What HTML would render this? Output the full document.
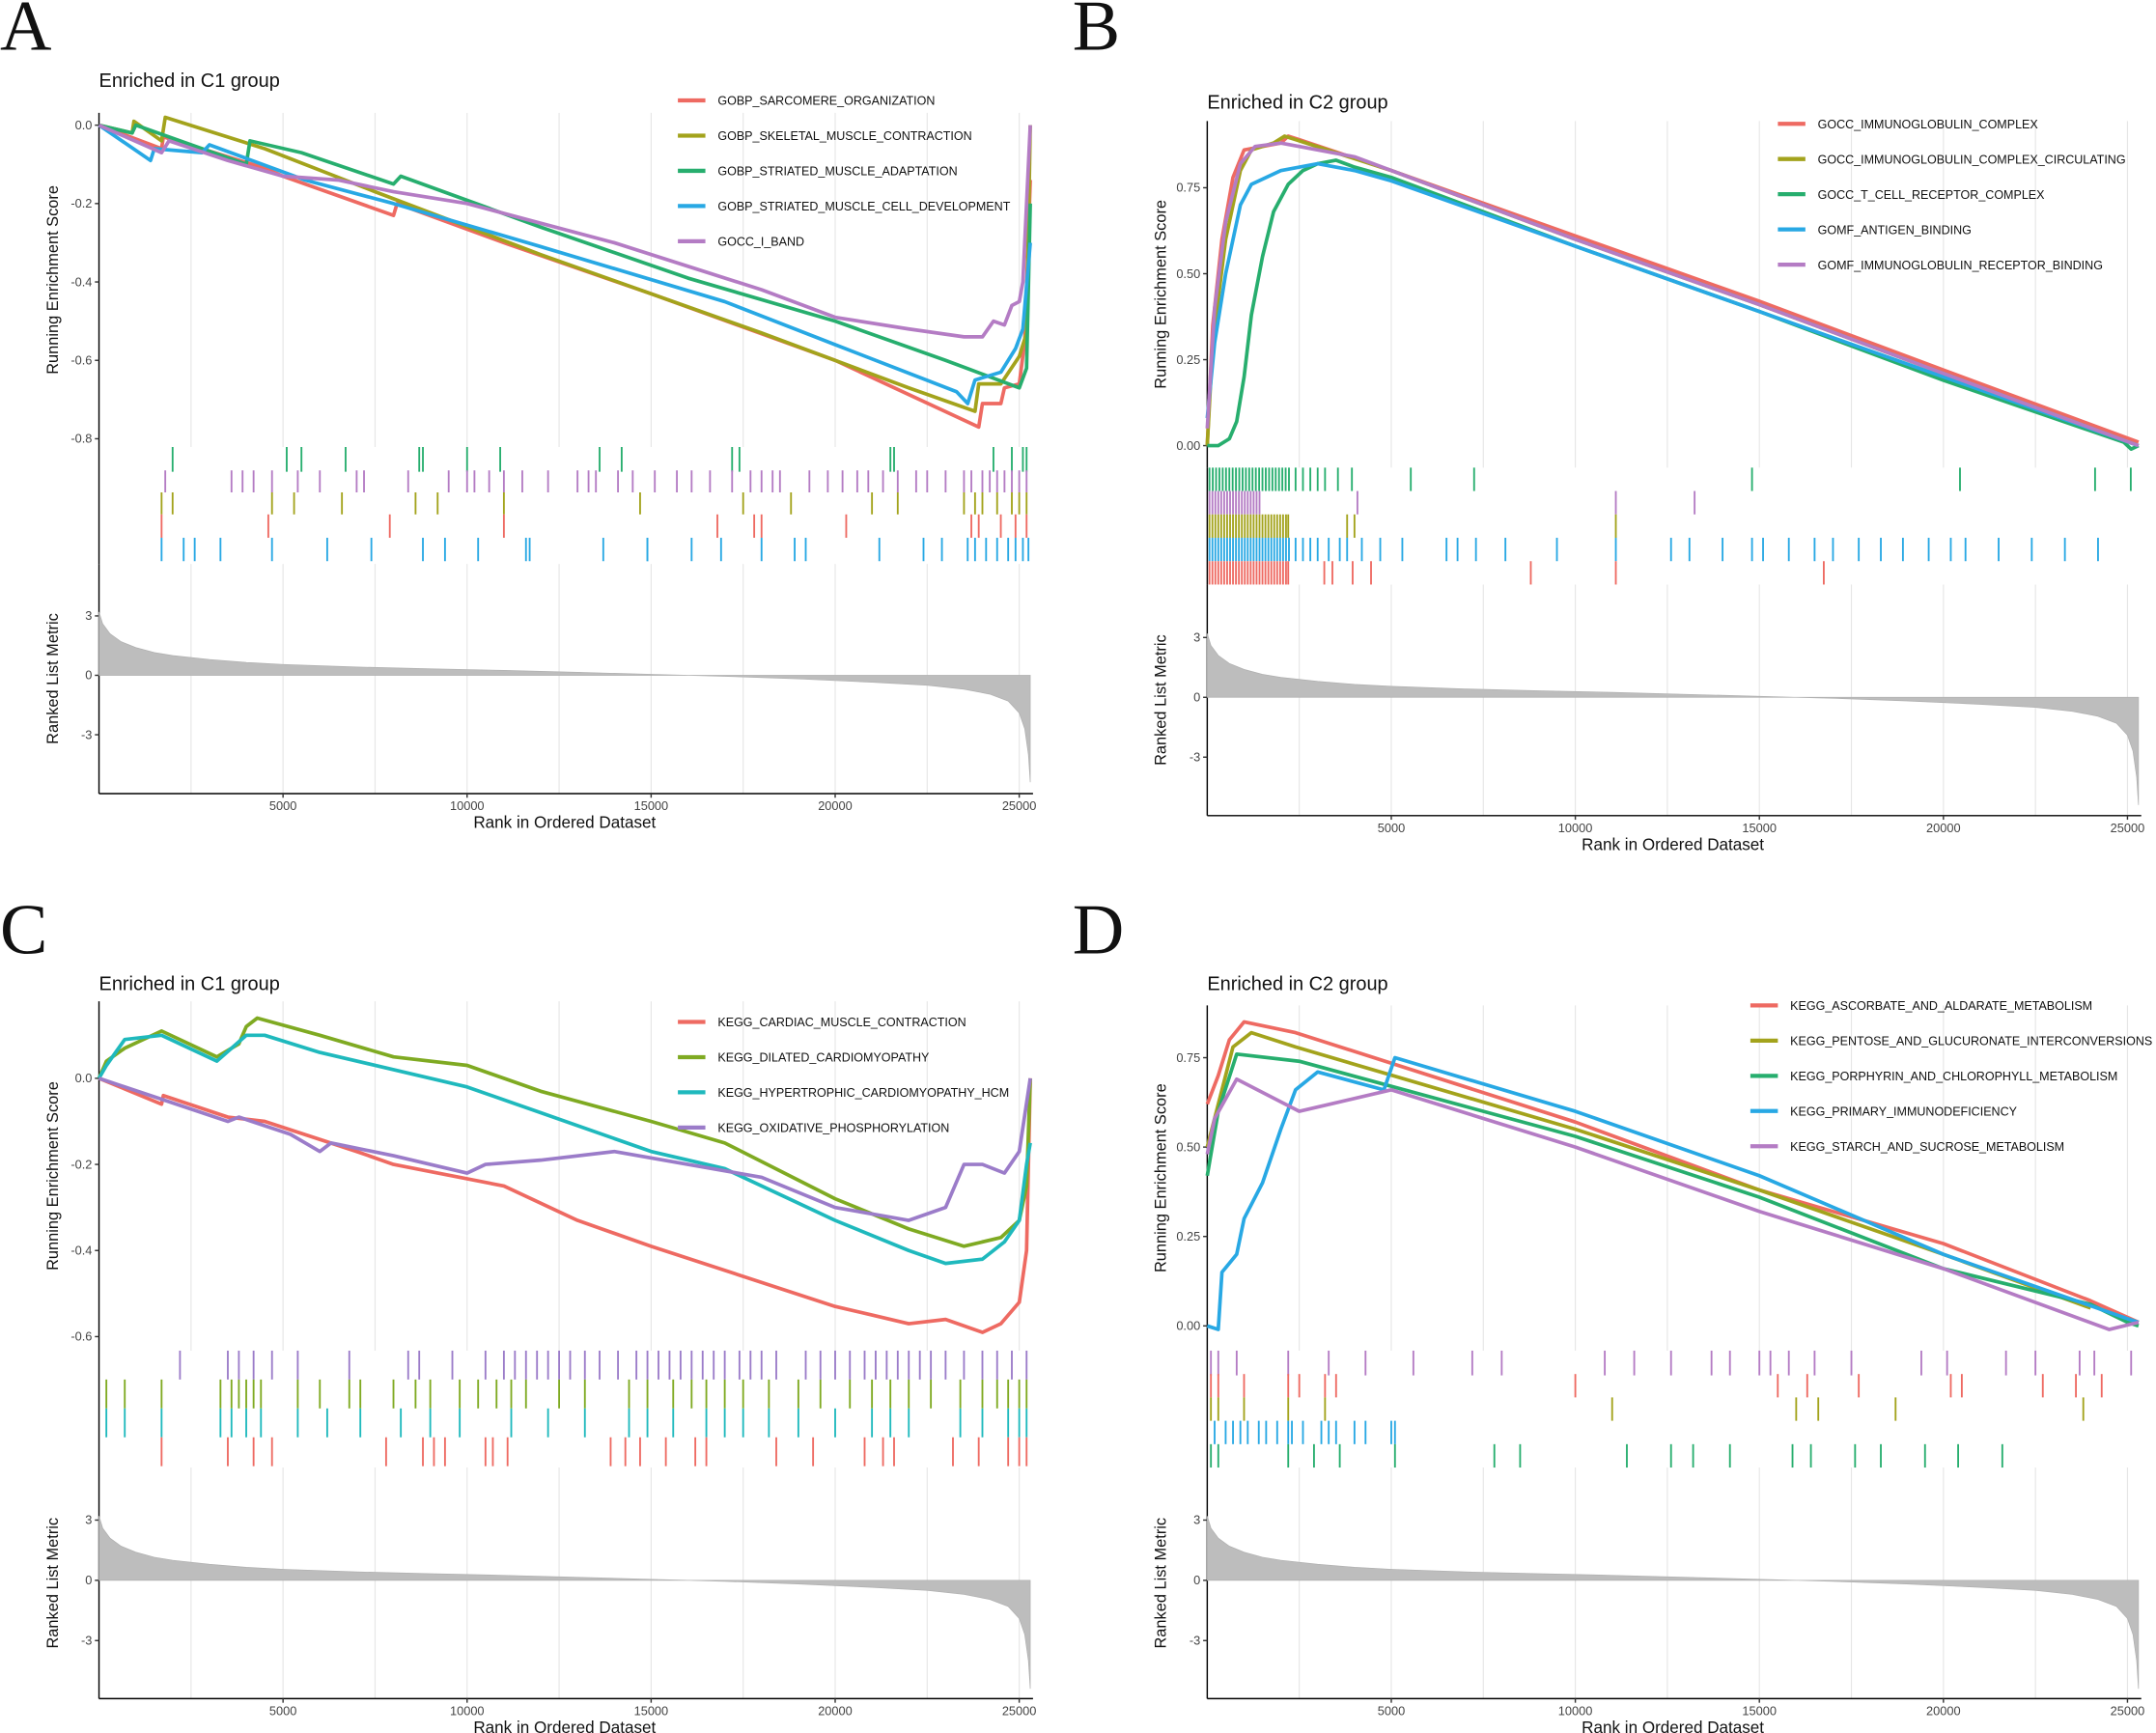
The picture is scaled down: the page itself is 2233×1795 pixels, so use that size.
<!DOCTYPE html>
<html><head><meta charset="utf-8"><style>
html,body{margin:0;padding:0;background:#fff}
svg{display:block}
text{font-family:"Liberation Sans Narrow","Liberation Sans",sans-serif}
text.letter{font-family:"Liberation Serif",serif}
text.ytitle{font-family:"Liberation Sans",sans-serif}
</style></head><body>
<svg id="fig" width="2233" height="1795" viewBox="0 0 1568 1260" preserveAspectRatio="none" xmlns="http://www.w3.org/2000/svg"></svg>
<script>
// ---------- DATA ----------
const rankTicks = [5000,10000,15000,20000,25000];
const gridRanks = [2500,5000,7500,10000,12500,15000,17500,20000,22500,25000];
const metricRanks = [0,100,300,600,1000,1500,2000,3000,4000,5000,7000,9000,11000,13000,15000,17000,19000,21000,22500,23500,24200,24700,25000,25150,25250,25300];
const metricVals  = [3.2,2.6,2.1,1.7,1.4,1.15,1.0,0.8,0.65,0.55,0.42,0.33,0.25,0.15,0.05,-0.05,-0.18,-0.35,-0.5,-0.7,-0.95,-1.3,-1.9,-2.7,-4,-5.4];

// Panel A
const aNames = ["GOBP_SARCOMERE_ORGANIZATION","GOBP_SKELETAL_MUSCLE_CONTRACTION","GOBP_STRIATED_MUSCLE_ADAPTATION","GOBP_STRIATED_MUSCLE_CELL_DEVELOPMENT","GOCC_I_BAND"];
const aColors = ["#EE6A62","#A3A31C","#27AE6E","#28A8E4","#B47CC4"];
const aES0 = [[0,0],[1700,-0.06],[1750,-0.03],[4500,-0.11],[5000,-0.13],[8000,-0.23],[8100,-0.2],[11000,-0.3],[15000,-0.43],[20000,-0.6],[23900,-0.77],[24000,-0.71],[24500,-0.71],[24600,-0.67],[25000,-0.66],[25150,-0.55],[25300,-0.14]];
const aES1 = [[0,0],[900,-0.02],[950,0.01],[1700,-0.04],[1800,0.02],[4500,-0.06],[7500,-0.17],[12000,-0.33],[18000,-0.53],[22000,-0.67],[23800,-0.73],[23900,-0.66],[24500,-0.66],[25000,-0.59],[25200,-0.53],[25300,0]];
const aES2 = [[0,0],[900,-0.02],[1000,0],[4000,-0.1],[4100,-0.04],[5500,-0.07],[8000,-0.15],[8200,-0.13],[12000,-0.26],[16000,-0.39],[20000,-0.5],[23000,-0.6],[25000,-0.67],[25200,-0.62],[25300,-0.2]];
const aES3 = [[0,0],[1400,-0.09],[1500,-0.06],[2800,-0.07],[3000,-0.05],[5600,-0.14],[8000,-0.2],[12000,-0.31],[17000,-0.45],[20000,-0.56],[23300,-0.68],[23600,-0.71],[23800,-0.65],[24500,-0.63],[24900,-0.57],[25100,-0.52],[25300,-0.3]];
const aES4 = [[0,0],[1700,-0.07],[1900,-0.04],[3500,-0.09],[5000,-0.13],[6500,-0.14],[8000,-0.17],[10000,-0.2],[12000,-0.25],[14000,-0.3],[16000,-0.36],[18000,-0.42],[20000,-0.49],[22000,-0.52],[23500,-0.54],[24000,-0.54],[24300,-0.5],[24600,-0.51],[24800,-0.46],[25000,-0.45],[25100,-0.4],[25300,0]];
const aHits0 = [1700,4600,7900,11000,16800,17800,18000,20300,23700,23900,24500,24900,25200];
const aHits1 = [1700,2000,4700,5300,6600,8600,9200,11000,14700,17500,18800,21000,21700,23500,23800,24000,24400,24800,25000,25200];
const aHits2 = [2000,5100,5500,6700,8700,8800,10000,10900,13600,14200,17200,17400,21500,21600,24300,24800,25100,25200];
const aHits3 = [1700,2300,2600,3300,4700,6200,7400,8800,9400,10300,11600,11700,13700,14900,14900,16100,16900,18000,18900,19200,21200,22400,22900,23600,23800,24100,24400,24700,24900,25100,25250];
const aHits4 = [1800,3600,3900,4200,4700,5400,6000,7000,7200,8400,9500,10000,10200,10600,11000,11500,12200,13000,13300,13500,14100,14500,15100,15700,16100,16600,17200,17700,18000,18300,18500,19300,19800,20200,20600,20900,21300,21700,22200,22500,23000,23500,23700,24000,24200,24400,24600,24800,25000,25200];

// Panel B
const bNames = ["GOCC_IMMUNOGLOBULIN_COMPLEX","GOCC_IMMUNOGLOBULIN_COMPLEX_CIRCULATING","GOCC_T_CELL_RECEPTOR_COMPLEX","GOMF_ANTIGEN_BINDING","GOMF_IMMUNOGLOBULIN_RECEPTOR_BINDING"];
const bColors = ["#EE6A62","#A3A31C","#27AE6E","#28A8E4","#B47CC4"];
const bES0 = [[0,0],[150,0.35],[400,0.6],[700,0.78],[1000,0.86],[1500,0.87],[2000,0.88],[2200,0.9],[2500,0.89],[5000,0.8],[10000,0.61],[15000,0.42],[20000,0.22],[25300,0.01]];
const bES1 = [[0,0],[150,0.3],[500,0.6],[900,0.8],[1200,0.86],[1800,0.88],[2100,0.9],[2400,0.89],[5000,0.8],[10000,0.6],[15000,0.41],[20000,0.21],[25300,0]];
const bES2 = [[0,0],[300,0],[600,0.02],[800,0.07],[1000,0.2],[1200,0.38],[1500,0.55],[1800,0.68],[2200,0.76],[2600,0.8],[3000,0.82],[3500,0.83],[4000,0.81],[5000,0.78],[10000,0.58],[15000,0.39],[20000,0.19],[24900,0.01],[25100,-0.01],[25300,0]];
const bES3 = [[0,0.08],[200,0.3],[500,0.5],[900,0.7],[1200,0.76],[2000,0.8],[3000,0.82],[4000,0.8],[5000,0.77],[10000,0.58],[15000,0.39],[20000,0.2],[25300,0]];
const bES4 = [[0,0.05],[200,0.4],[500,0.65],[900,0.82],[1300,0.87],[2000,0.88],[2500,0.87],[4000,0.84],[5000,0.8],[10000,0.6],[15000,0.41],[20000,0.21],[25300,0]];
const bHits2 = [60,150,240,330,420,510,600,690,780,870,960,1050,1140,1230,1320,1410,1500,1590,1680,1770,1860,1950,2040,2130,2220,2400,2600,2800,3000,3200,3550,3930,5530,7250,14800,20450,24120,25090];
const bHits4 = [60,140,220,300,380,460,540,620,700,780,860,940,1020,1100,1180,1260,1340,1420,4080,11100,13240];
const bHits1 = [60,140,220,300,380,460,540,620,700,780,860,940,1020,1100,1180,1260,1340,1420,1500,1580,1660,1740,1820,1900,1980,2060,2140,2200,3800,4000,11100];
const bHits3 = [60,140,220,300,380,460,540,620,700,780,860,940,1020,1100,1180,1260,1340,1420,1500,1580,1660,1740,1820,1900,1980,2060,2140,2220,2400,2600,2800,3000,3300,3600,3800,4200,4700,5300,6500,6800,7300,8100,9500,11100,12600,13100,14000,14800,15100,15800,16500,17000,17700,18300,18900,19600,20200,20600,21500,22400,23300,24200];
const bHits0 = [60,140,220,300,380,460,540,620,700,780,860,940,1020,1100,1180,1260,1340,1420,1500,1580,1660,1740,1820,1900,1980,2060,2140,2200,3180,3400,3950,4450,8790,11100,16750];

// Panel C
const cNames = ["KEGG_CARDIAC_MUSCLE_CONTRACTION","KEGG_DILATED_CARDIOMYOPATHY","KEGG_HYPERTROPHIC_CARDIOMYOPATHY_HCM","KEGG_OXIDATIVE_PHOSPHORYLATION"];
const cColors = ["#EE6A62","#7FAA22","#1FB9BD","#9B7CC9"];
const cES0 = [[0,0],[1700,-0.06],[1750,-0.04],[3500,-0.09],[4500,-0.1],[7000,-0.17],[8000,-0.2],[11000,-0.25],[13000,-0.33],[15000,-0.39],[20000,-0.53],[21000,-0.55],[22000,-0.57],[23000,-0.56],[24000,-0.59],[24500,-0.57],[25000,-0.52],[25200,-0.4],[25300,0]];
const cES1 = [[0,0],[200,0.04],[700,0.07],[1700,0.11],[3200,0.05],[3800,0.08],[4000,0.12],[4300,0.14],[6000,0.1],[8000,0.05],[10000,0.03],[12000,-0.03],[15000,-0.1],[17000,-0.15],[20000,-0.28],[22000,-0.35],[23500,-0.39],[24500,-0.37],[25000,-0.33],[25200,-0.25],[25300,0]];
const cES2 = [[0,0],[200,0.03],[700,0.09],[1700,0.1],[3200,0.04],[4000,0.1],[4500,0.1],[6000,0.06],[8000,0.02],[10000,-0.02],[12000,-0.08],[15000,-0.17],[17000,-0.21],[20000,-0.33],[22000,-0.4],[23000,-0.43],[24000,-0.42],[24600,-0.38],[25000,-0.33],[25200,-0.2],[25300,-0.15]];
const cES3 = [[0,0],[3500,-0.1],[3800,-0.09],[5200,-0.13],[6000,-0.17],[6300,-0.15],[8000,-0.18],[10000,-0.22],[10500,-0.2],[12000,-0.19],[14000,-0.17],[16000,-0.2],[18000,-0.23],[20000,-0.3],[22000,-0.33],[23000,-0.3],[23500,-0.2],[24000,-0.2],[24600,-0.22],[25000,-0.17],[25300,0]];
const cHits0 = [1700,3500,4200,4700,7800,8800,9100,9400,10500,10700,11100,13900,14300,14700,15400,16200,16500,18400,19400,20800,21300,21600,23200,23900,24700,25000,25200];
const cHits1 = [200,700,1700,3300,3600,3800,4000,4200,4400,5400,6000,6800,7100,8000,8600,9000,9800,10300,10800,11200,11600,12500,13200,14400,14900,15600,16100,16500,17000,17500,18200,19000,19600,20400,21000,21500,22000,22600,23400,24000,24400,24700,25000,25200];
const cHits2 = [200,700,1700,3300,3600,4000,4400,5400,6200,7100,8200,9000,9800,11200,12200,13200,14400,14900,15600,16500,17000,17500,18200,19000,20000,21000,21500,22000,23400,24000,24700,25000,25200];
const cHits3 = [2200,3500,3800,4200,4700,5400,6800,8400,8700,9600,10500,11000,11300,11600,11900,12200,12500,12800,13200,13600,14100,14600,14900,15200,15500,15800,16100,16400,16700,17000,17400,17700,18000,18400,19200,19600,20000,20400,20800,21100,21400,21700,22000,22300,22600,23000,23500,24000,24400,24800,25200];

// Panel D
const dNames = ["KEGG_ASCORBATE_AND_ALDARATE_METABOLISM","KEGG_PENTOSE_AND_GLUCURONATE_INTERCONVERSIONS","KEGG_PORPHYRIN_AND_CHLOROPHYLL_METABOLISM","KEGG_PRIMARY_IMMUNODEFICIENCY","KEGG_STARCH_AND_SUCROSE_METABOLISM"];
const dColors = ["#EE6A62","#A3A31C","#27AE6E","#28A8E4","#B47CC4"];
const dES0 = [[0,0.62],[300,0.7],[600,0.8],[1000,0.85],[2400,0.82],[10000,0.57],[15000,0.38],[20000,0.23],[24000,0.07],[25300,0.01]];
const dES1 = [[0,0.5],[400,0.66],[700,0.78],[1200,0.82],[2400,0.78],[10000,0.55],[15000,0.38],[20000,0.2],[24000,0.05]];
const dES2 = [[0,0.42],[300,0.6],[800,0.76],[2500,0.74],[10000,0.53],[15000,0.36],[20000,0.16],[24000,0.06],[25000,0.01],[25300,0]];
const dES3 = [[0,0],[300,-0.01],[400,0.15],[800,0.2],[1000,0.3],[1500,0.4],[2000,0.55],[2400,0.66],[3000,0.71],[4800,0.66],[5100,0.75],[10000,0.6],[15000,0.42],[20000,0.2],[25000,0.02],[25300,0.01]];
const dES4 = [[0,0.48],[200,0.58],[800,0.69],[2500,0.6],[5000,0.66],[10000,0.5],[15000,0.32],[20000,0.16],[24500,-0.01],[25300,0.01]];
const dHits4 = [100,300,800,2200,3300,4300,5600,7200,8000,10800,11600,12600,13700,14200,15000,15300,15800,16500,17500,19400,20100,21700,22500,23700,24100,25100];
const dHits0 = [100,300,1000,2200,2500,3200,3500,10000,15500,16300,17700,20200,20500,22700,23600,24300];
const dHits1 = [100,300,1000,2200,3200,11000,16000,16600,18700,23800];
const dHits3 = [200,500,700,900,1100,1400,1600,1900,2200,2300,2600,3100,3300,3500,4000,4300,5000,5100];
const dHits2 = [100,300,2200,2900,3600,5100,7800,8500,11400,12600,13200,14200,15900,16400,17600,18300,19500,20400,21600];

// ---------- DRAWING ----------
const NS="http://www.w3.org/2000/svg";
const svg=document.getElementById('fig');
function el(tag,attrs,parent){const e=document.createElementNS(NS,tag);for(const k in attrs)e.setAttribute(k,attrs[k]);(parent||svg).appendChild(e);return e;}
function txt(s,attrs,parent){const t=el('text',attrs,parent);t.textContent=s;return t;}

function panel(P){
  const g=el('g',{});
  
  
  const xR=r=>P.x0+r*0.02677;
  const yE=v=>P.esY0+v*P.esK;
  const yM=v=>P.mY0+v*P.mK;
  const xEnd=xR(25300);
  const lt=txt(P.letter,{x:P.lx,y:P.ly,'font-size':52,'class':'letter',fill:'#111'},g);
  
  
  const tt=txt(P.title,{x:P.x0,y:P.titleY,'font-size':14,fill:'#111'},g);
  
  
  for(const r of gridRanks){
    for(const [a,b] of [[P.top0,P.top1],[P.bot0,P.bot1]]){
      const l=el('line',{x1:xR(r),x2:xR(r),y1:a,y2:b,stroke:'#e6e6e6','stroke-width':0.8},g);
      
      
    }
  }
  el('line',{x1:P.x0,x2:P.x0,y1:P.top0,y2:P.top1,stroke:'#000','stroke-width':1},g);
  el('line',{x1:P.x0,x2:P.x0,y1:P.rug0,y2:P.rug1,stroke:'#000','stroke-width':1},g);
  el('line',{x1:P.x0,x2:P.x0,y1:P.bot0,y2:P.bot1,stroke:'#000','stroke-width':1},g);
  el('line',{x1:P.x0,x2:xEnd+2,y1:P.bot1,y2:P.bot1,stroke:'#000','stroke-width':1},g);
  for(const v of P.esTicks){
    const y=yE(v);
    el('line',{x1:P.x0-3,x2:P.x0,y1:y,y2:y,stroke:'#333'},g);
    const t=txt(P.esFmt(v),{x:P.x0-5,y:y+3,'font-size':9,'text-anchor':'end',fill:'#444'},g);
    
    
  }
  for(const v of [3,0,-3]){
    const y=yM(v);
    el('line',{x1:P.x0-3,x2:P.x0,y1:y,y2:y,stroke:'#333'},g);
    const t=txt(String(v),{x:P.x0-5,y:y+3,'font-size':9,'text-anchor':'end',fill:'#444'},g);
    
    
  }
  for(const r of rankTicks){
    el('line',{x1:xR(r),x2:xR(r),y1:P.bot1,y2:P.bot1+3,stroke:'#333'},g);
    const t=txt(String(r),{x:xR(r),y:P.bot1+12,'font-size':9,'text-anchor':'middle',fill:'#444'},g);
    
    
  }
  const xt=txt('Rank in Ordered Dataset',{x:(P.x0+xEnd)/2,y:P.bot1+25,'font-size':12,'text-anchor':'middle',fill:'#111'},g);
  
  
  const cy1=(P.top0+P.top1)/2, cy2=(P.bot0+P.bot1)/2;
  const y1=txt('Running Enrichment Score',{x:0,y:0,'font-size':11.5,'text-anchor':'middle',fill:'#111','class':'ytitle',transform:`translate(${P.x0-30},${cy1}) rotate(-90)`},g);
  
  
  const y2=txt('Ranked List Metric',{x:0,y:0,'font-size':11.5,'text-anchor':'middle',fill:'#111','class':'ytitle',transform:`translate(${P.x0-30},${cy2}) rotate(-90)`},g);
  
  
  let d=`M${xR(metricRanks[0])},${yM(0)}`;
  metricRanks.forEach((r,i)=>{d+=` L${xR(r)},${yM(metricVals[i])}`;});
  d+=` L${xR(metricRanks[metricRanks.length-1])},${yM(0)} Z`;
  const ma=el('path',{d,fill:'#bdbdbd',stroke:'#b0b0b0','stroke-width':0.5},g);
  
  
  P.rugs.forEach((row)=>{
    const [hits,ci,ya,yb]=row;
    for(const r of hits){
      const l=el('line',{x1:xR(r),x2:xR(r),y1:ya,y2:yb,stroke:P.colors[ci],'stroke-width':1.3},g);
      
      
    }
  });
  P.series.forEach((s,i)=>{
    const pts=s.map(p=>`${xR(p[0]).toFixed(1)},${yE(p[1]).toFixed(1)}`).join(' ');
    const pl=el('polyline',{points:pts,fill:'none',stroke:P.colors[i],'stroke-width':2.6,'stroke-linejoin':'round'},g);
    
    
  });
  P.names.forEach((n,i)=>{
    const y=P.legY+i*25.6;
    const lg=el('g',{},g);
    
    
    el('line',{x1:P.legX,x2:P.legX+20,y1:y,y2:y,stroke:P.colors[i],'stroke-width':3},lg);
    txt(n,{x:P.legX+29,y:y+3.3,'font-size':8.8,fill:'#111'},lg);
  });
}

panel({id:'a',letter:'A',lx:0,ly:36,title:'Enriched in C1 group',titleY:63,x0:72,top0:82,top1:325,rug0:325,rug1:410,bot0:410,bot1:577,
  esY0:91,esK:-285,esTicks:[0,-0.2,-0.4,-0.6,-0.8],esFmt:v=>v.toFixed(1),mY0:491,mK:-14.4,
  names:aNames,colors:aColors,series:[aES0,aES1,aES2,aES3,aES4],
  rugs:[[aHits2,2,325,343],[aHits4,4,342,358],[aHits1,1,358,374],[aHits0,0,374,391],[aHits3,3,391,408]],legX:493,legY:73});
panel({id:'b',letter:'B',lx:780,ly:36,title:'Enriched in C2 group',titleY:79,x0:878,top0:88,top1:340,rug0:340,rug1:425,bot0:425,bot1:593,
  esY0:324,esK:-250,esTicks:[0,0.25,0.5,0.75],esFmt:v=>v.toFixed(2),mY0:507,mK:-14.5,
  names:bNames,colors:bColors,series:[bES0,bES1,bES2,bES3,bES4],
  rugs:[[bHits2,2,340,357],[bHits4,4,357,374],[bHits1,1,374,391],[bHits3,3,391,408],[bHits0,0,408,425]],legX:1293,legY:90});
panel({id:'c',letter:'C',lx:0,ly:693,title:'Enriched in C1 group',titleY:720,x0:72,top0:728,top1:982,rug0:982,rug1:1067,bot0:1067,bot1:1235,
  esY0:784,esK:-313,esTicks:[0,-0.2,-0.4,-0.6],esFmt:v=>v.toFixed(1),mY0:1149,mK:-14.6,
  names:cNames,colors:cColors,series:[cES0,cES1,cES2,cES3],
  rugs:[[cHits3,3,982,1003],[cHits1,1,1003,1024],[cHits2,2,1024,1045],[cHits0,0,1045,1066]],legX:493,legY:743});
panel({id:'d',letter:'D',lx:780,ly:693,title:'Enriched in C2 group',titleY:720,x0:878,top0:731,top1:982,rug0:982,rug1:1067,bot0:1067,bot1:1235,
  esY0:964,esK:-260,esTicks:[0,0.25,0.5,0.75],esFmt:v=>v.toFixed(2),mY0:1149,mK:-14.6,
  names:dNames,colors:dColors,series:[dES0,dES1,dES2,dES3,dES4],
  rugs:[[dHits4,4,982,1000],[dHits0,0,999,1016],[dHits1,1,1016,1033],[dHits3,3,1033,1050],[dHits2,2,1050,1067]],legX:1273,legY:731});
</script>
</body></html>
